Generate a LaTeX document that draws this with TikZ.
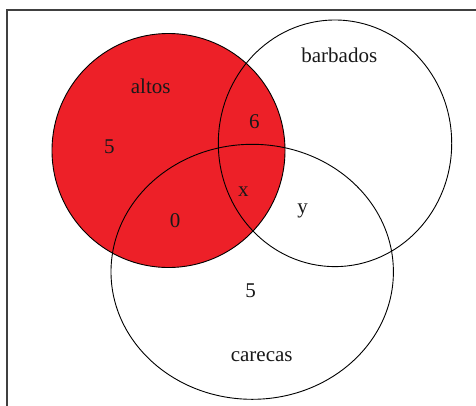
\documentclass[tikz,border=0pt]{standalone}
\usepackage{fontspec}
\setmainfont{Liberation Serif}
\definecolor{vred}{RGB}{237,32,40}
\begin{document}
\begin{tikzpicture}[x=1pt,y=-1pt,
  setline/.style={draw=black,line width=0.9pt},
  lbl/.style={font=\fontsize{21}{24}\selectfont,inner sep=0pt,text=black!90}]
\useasboundingbox (0,0) rectangle (476,405);
\fill[white] (0,0) rectangle (476,405);
\draw[line width=1.6pt,draw=black!75] (477,10) -- (7,10) -- (7,406);
% altos
\fill[vred] (168.5,150.5) ellipse [x radius=116.5, y radius=117];
\draw[setline] (335,143.3) ellipse [x radius=116.7, y radius=123.3];
\draw[setline] (252.2,271.8) ellipse [x radius=141.2, y radius=127.5];
\draw[setline] (168.5,150.5) ellipse [x radius=116.5, y radius=117];
\node[lbl] (altos) at (150.7,86.7) {altos};
\node[lbl] (barb) at (339.3,55) {barbados};
\node[lbl] (car) at (261.7,356.7) {carecas};
\node[lbl] (a5) at (109.3,146.7) {5};
\node[lbl] (ab6) at (254.3,121.7) {6};
\node[lbl] (abc) at (243.3,191.7) {x};
\node[lbl] (bc) at (302.7,210.7) {y};
\node[lbl] (ac) at (175,220.7) {0};
\node[lbl] (c5) at (250.7,290.7) {5};
\end{tikzpicture}
\end{document}
